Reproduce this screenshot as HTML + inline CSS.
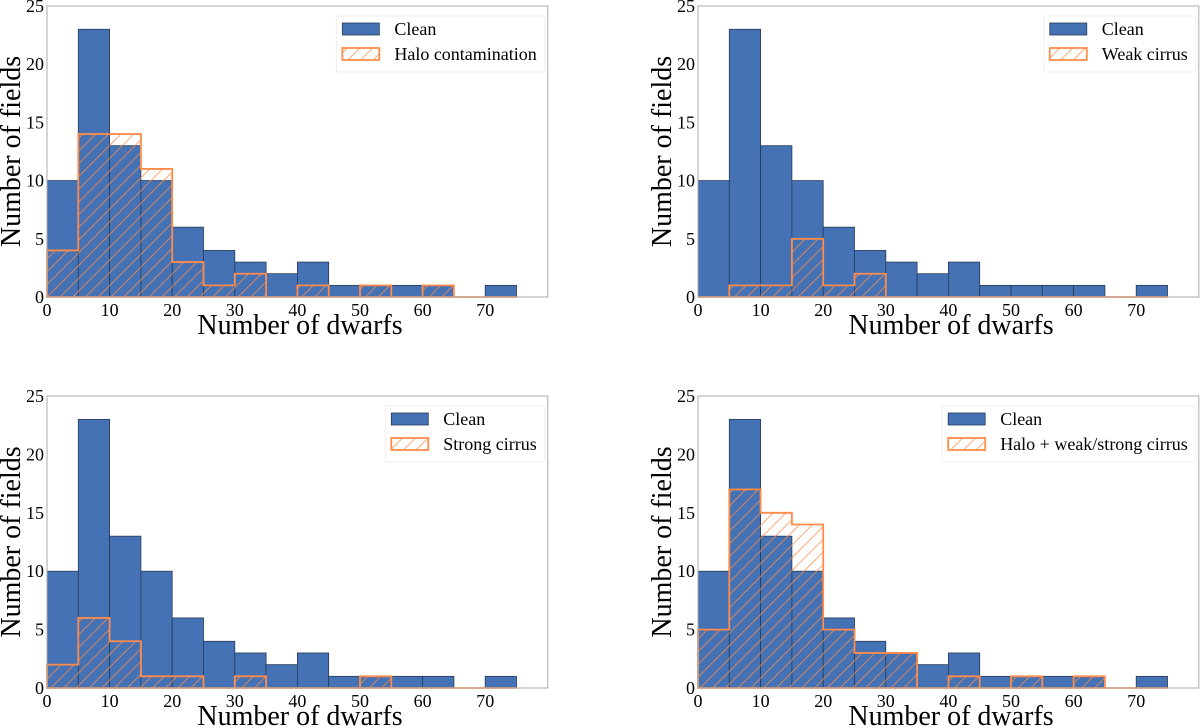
<!DOCTYPE html>
<html><head><meta charset="utf-8">
<style>
body{margin:0;background:#fff;}
svg{display:block;}
text{font-family:"Liberation Serif","DejaVu Serif",serif;fill:#000;}
</style></head>
<body>
<svg id="fig" width="1200" height="728" viewBox="0 0 1200 728" xmlns="http://www.w3.org/2000/svg">
<defs>
<pattern id="hatch" patternUnits="userSpaceOnUse" width="9" height="9" patternTransform="rotate(45)">
<line x1="0" y1="0" x2="0" y2="9" stroke="#ff8c4a" stroke-width="1.5"/>
</pattern>
</defs>
</svg>
<script>
const binEdges=[0,5,10,15,20,25,30,35,40,45,50,55,60,65,70,75];
const cleanCounts=[10,23,13,10,6,4,3,2,3,1,1,1,1,0,1];
const haloCounts=[4,14,14,11,3,1,2,0,1,0,1,0,1,0,0];
const weakCounts=[0,1,1,5,1,2,0,0,0,0,0,0,0,0,0];
const strongCounts=[2,6,4,1,1,0,1,0,0,0,1,0,0,0,0];
const combinedCounts=[5,17,15,14,5,3,3,0,1,0,1,0,1,0,0];
const xTicks=[0,10,20,30,40,50,60,70];
const yTicks=[0,5,10,15,20,25];
const panelLabels=["Halo contamination","Weak cirrus","Strong cirrus","Halo + weak/strong cirrus"];
const panelSeries=[haloCounts,weakCounts,strongCounts,combinedCounts];
const panelNames=["halo","weak-cirrus","strong-cirrus","combined"];

const svg=document.getElementById('fig');
const NS="http://www.w3.org/2000/svg";
function mk(tag,attrs,parent){const e=document.createElementNS(NS,tag);for(const k in attrs)e.setAttribute(k,attrs[k]);(parent||svg).appendChild(e);return e;}

const origins=[[47,6,297],[698,6,297],[47,396,688],[698,396,688]];
panelSeries.forEach((series,p)=>{
  const [x0,yTop,yBot]=origins[p];
  const g=mk('g',{});
  
  
  const W=80*6.26;
  const sx=v=>x0+v*6.26;
  const sy=v=>yBot-(v/25)*(yBot-yTop);
  cleanCounts.forEach((c,i)=>{
    if(c<=0)return;
    const r=mk('rect',{x:sx(binEdges[i]),y:sy(c),width:sx(binEdges[i+1])-sx(binEdges[i]),height:sy(0)-sy(c),fill:'#4472b4',stroke:'#2a3a55','stroke-width':0.8},g);
    
    
  });
  let d='M'+sx(binEdges[0])+','+sy(0);
  series.forEach((c,i)=>{d+=' L'+sx(binEdges[i])+','+sy(c)+' L'+sx(binEdges[i+1])+','+sy(c);});
  d+=' L'+sx(binEdges[binEdges.length-1])+','+sy(0)+' Z';
  const h=mk('path',{d:d,fill:'url(#hatch)',stroke:'#ff8c4a','stroke-width':1.8},g);
  
  
  const f=mk('rect',{x:x0,y:yTop,width:W,height:yBot-yTop,fill:'none',stroke:'#aaa','stroke-width':1},g);
  
  
  xTicks.forEach(t=>{
    const tx=mk('text',{x:sx(t),y:yBot+19,'font-size':18,'text-anchor':'middle'},g);
    tx.textContent=t;
    
    
  });
  yTicks.forEach(t=>{
    const ty=mk('text',{x:x0-3,y:sy(t)+6,'font-size':18,'text-anchor':'end'},g);
    ty.textContent=t;
    
    
  });
  const xl=mk('text',{x:x0+253,y:yBot+37,'font-size':28,'text-anchor':'middle'},g);
  xl.textContent='Number of dwarfs';
  
  
  const yc=(yTop+yBot)/2;
  const yl=mk('text',{x:x0-27,y:yc,'font-size':28,'text-anchor':'middle',transform:'rotate(-90 '+(x0-27)+' '+yc+')'},g);
  yl.textContent='Number of fields';
  
  
  const lg=mk('g',{},g);
  
  
  const box=mk('rect',{fill:'#fff',stroke:'#eee','stroke-width':1,rx:2},lg);
  const p1=mk('rect',{width:37,height:12,fill:'#4472b4',stroke:'#2a3a55','stroke-width':0.8},lg);
  const p2=mk('rect',{width:37,height:12,fill:'url(#hatch)',stroke:'#ff8c4a','stroke-width':1.8},lg);
  const t1=mk('text',{'font-size':18},lg);
  t1.textContent='Clean';
  
  
  const t2=mk('text',{'font-size':18},lg);
  t2.textContent=panelLabels[p];
  
  
  const tw=Math.max(t1.getComputedTextLength(),t2.getComputedTextLength());
  const lw=58+tw+8;
  const lx=x0+W-3-lw, ly=yTop+10;
  box.setAttribute('x',lx);box.setAttribute('y',ly);box.setAttribute('width',lw);box.setAttribute('height',56);
  p1.setAttribute('x',lx+6);p1.setAttribute('y',ly+7);
  p2.setAttribute('x',lx+6);p2.setAttribute('y',ly+32);
  t1.setAttribute('x',lx+58);t1.setAttribute('y',ly+19);
  t2.setAttribute('x',lx+58);t2.setAttribute('y',ly+44);
});
</script>
</body></html>
